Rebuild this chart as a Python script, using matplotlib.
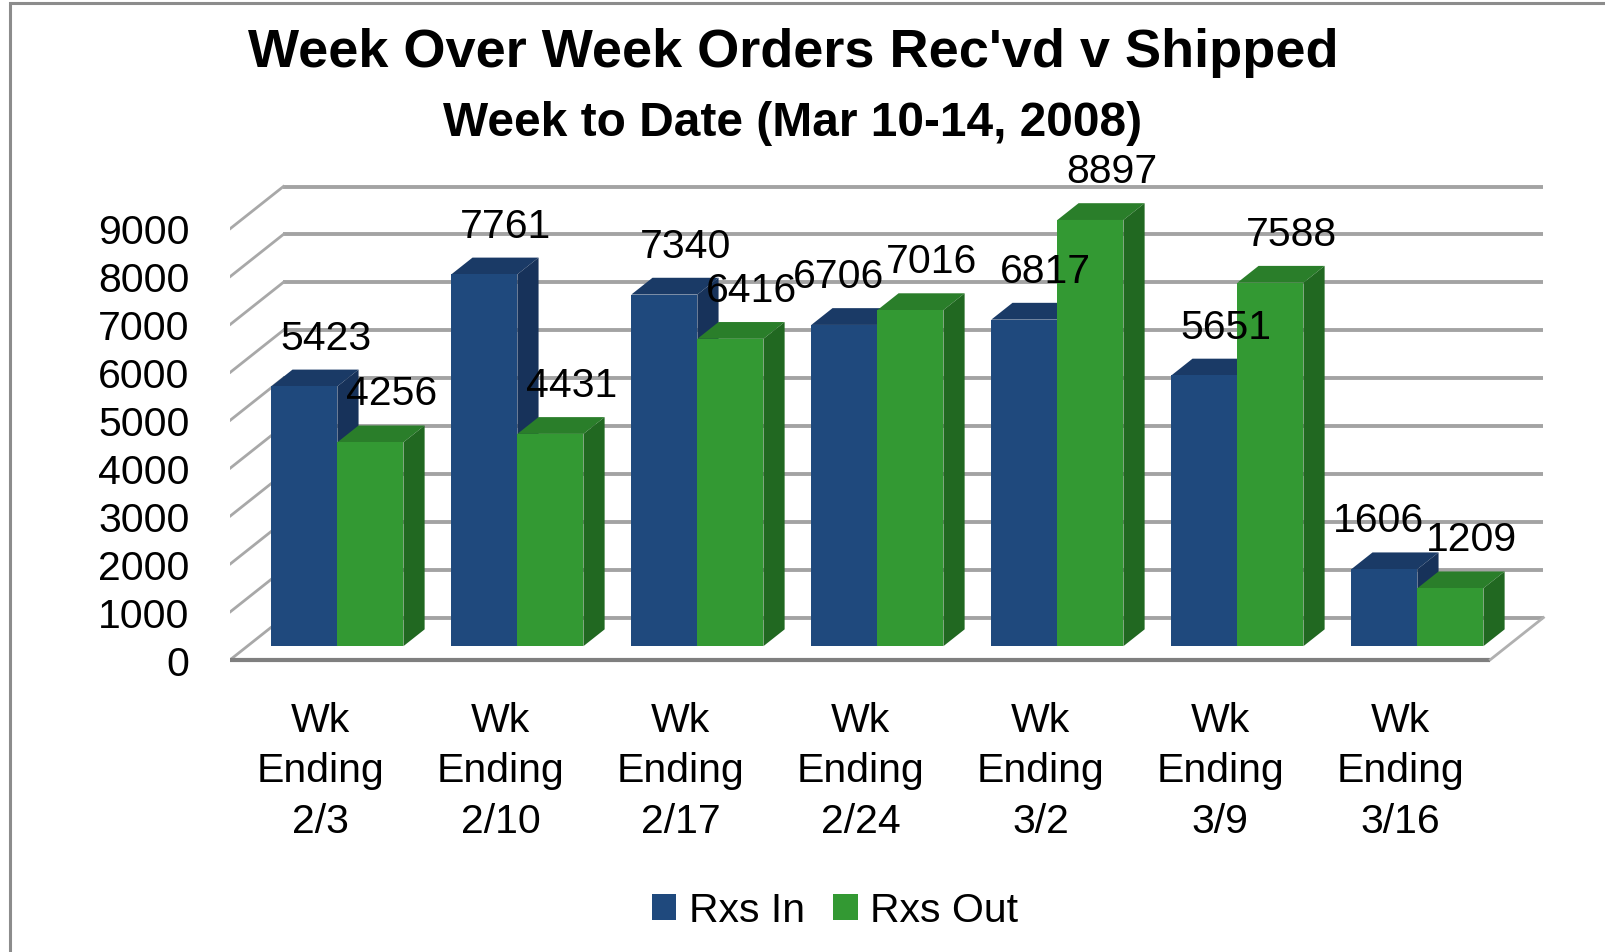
import matplotlib
matplotlib.use('Agg')
import matplotlib.pyplot as plt
from matplotlib.patches import Polygon, Patch, Rectangle

plt.rcParams['font.family'] = ['Liberation Sans', 'DejaVu Sans']

weeks = ['Wk\nEnding\n2/3', 'Wk\nEnding\n2/10', 'Wk\nEnding\n2/17', 'Wk\nEnding\n2/24',
         'Wk\nEnding\n3/2', 'Wk\nEnding\n3/9', 'Wk\nEnding\n3/16']
rxs_in = [5423, 7761, 7340, 6706, 6817, 5651, 1606]
rxs_out = [4256, 4431, 6416, 7016, 8897, 7588, 1209]
series_names = ['Rxs In', 'Rxs Out']
y_ticks = list(range(0, 10000, 1000))

title = "Week Over Week Orders Rec'vd v Shipped"
subtitle = 'Week to Date (Mar 10-14, 2008)'

blue = {'front': '#1f497d', 'top': '#1a3a66', 'side': '#17325a'}
green = {'front': '#339933', 'top': '#2a7e2a', 'side': '#216821'}

# fake 3d: depth offset of the box, in data units
W, H = 1606, 953
px_per_cat = 180.0
px_per_val = 0.0479
DXC = 53 / px_per_cat
DYV = 42 / px_per_val
Z0, Z1 = 0.32, 0.72
BW = 0.367


def proj(x, y, z):
    return (x + z * DXC, y + z * DYV)


fig = plt.figure(figsize=(W / 100, H / 100), dpi=100)
x_lo, x_hi = -0.5, 7.0
y_lo, y_hi = -400, 10000
left_px = 230.4
bottom_px = (H - 660.6) + y_lo * px_per_val
ax = fig.add_axes([left_px / W, bottom_px / H,
                   (x_hi - x_lo) * px_per_cat / W, (y_hi - y_lo) * px_per_val / H])
ax.set_xlim(x_lo, x_hi)
ax.set_ylim(y_lo, y_hi)
for s in ax.spines.values():
    s.set_visible(False)

n = len(weeks)
# back wall gridlines and slanted side ticks
for v in y_ticks:
    a = proj(-0.5, v, 1)
    b = proj(n - 0.5, v, 1)
    ax.plot([a[0], b[0]], [a[1], b[1]], color='#a3a3a3', lw=2.8, zorder=1, solid_capstyle='butt')
    c = proj(-0.5, v, 0)
    ax.plot([c[0], a[0]], [c[1], a[1]], color='#a8a8a8', lw=2.0, zorder=1)

# floor edges
f0 = proj(-0.5, 0, 0)
f1 = proj(n - 0.5, 0, 0)
f2 = proj(n - 0.5, 0, 1)
ax.plot([f0[0], f1[0]], [f0[1], f1[1]], color='#7f7f7f', lw=3.0, zorder=1.5, solid_capstyle='butt')
ax.plot([f1[0], f2[0]], [f1[1], f2[1]], color='#b0b0b0', lw=2.0, zorder=1.5)

labels = {0: [], 1: []}
for s_idx, (vals, col) in enumerate([(rxs_in, blue), (rxs_out, green)]):
    for i, v in enumerate(vals):
        x0 = i - BW + s_idx * BW
        x1 = x0 + BW
        zo = 2 + i * 2 + s_idx
        ax.bar(x0 + BW / 2 + Z0 * DXC, v, width=BW, bottom=Z0 * DYV,
               color=col['front'], zorder=zo + 0.5, linewidth=0)
        top = [proj(x0, v, Z0), proj(x1, v, Z0), proj(x1, v, Z1), proj(x0, v, Z1)]
        side = [proj(x1, 0, Z0), proj(x1, v, Z0), proj(x1, v, Z1), proj(x1, 0, Z1)]
        ax.add_patch(Polygon(top, closed=True, facecolor=col['top'], edgecolor='none', zorder=zo))
        ax.add_patch(Polygon(side, closed=True, facecolor=col['side'], edgecolor='none', zorder=zo))
        lx, ly = proj(x0 + BW / 2, v, Z1)
        t = ax.text(lx, ly + 32 / px_per_val, str(v), ha='center', va='center',
                    fontsize=29.5, color='black', zorder=30)
        labels[s_idx].append(t)

ax.set_yticks(y_ticks)
ax.set_yticklabels([str(t) for t in y_ticks], fontsize=29.5)
ax.set_xticks(range(n))
ax.set_xticklabels(weeks, fontsize=29.5, linespacing=1.41)
ax.tick_params(axis='both', length=0)
ax.tick_params(axis='y', pad=29.5)
ax.tick_params(axis='x', pad=16)

fig.text(793 / W, 1 - 53 / H, title, ha='center', va='center', fontsize=39, fontweight='bold')
fig.text(793 / W, 1 - 123 / H, subtitle, ha='center', va='center', fontsize=34.5, fontweight='bold')

handles = [Patch(facecolor=blue['front']), Patch(facecolor=green['front'])]
fig.legend(handles, series_names, loc='center', bbox_to_anchor=(835 / W, 1 - 911 / H),
           ncol=2, frameon=False, fontsize=29.5, handlelength=0.6, handleheight=0.6,
           handletextpad=0.3, columnspacing=0.7)

# chart area border (cut off on the right and bottom)
fig.add_artist(Rectangle((10.5 / W, -0.1), 1.2, 1.1 - 3.5 / H, transform=fig.transFigure,
                         fill=False, edgecolor='#8c8c8c', lw=2.2))

# push a blue label left when it runs into the green one of the same week
fig.canvas.draw()
renderer = fig.canvas.get_renderer()
for tb, tg in zip(labels[0], labels[1]):
    bb = tb.get_window_extent(renderer)
    bg = tg.get_window_extent(renderer)
    if bb.overlaps(bg):
        shift = bb.x1 - bg.x0 + 2
        tb.set_x(tb.get_position()[0] - shift / px_per_cat)

fig.savefig('out.png', dpi=100)
